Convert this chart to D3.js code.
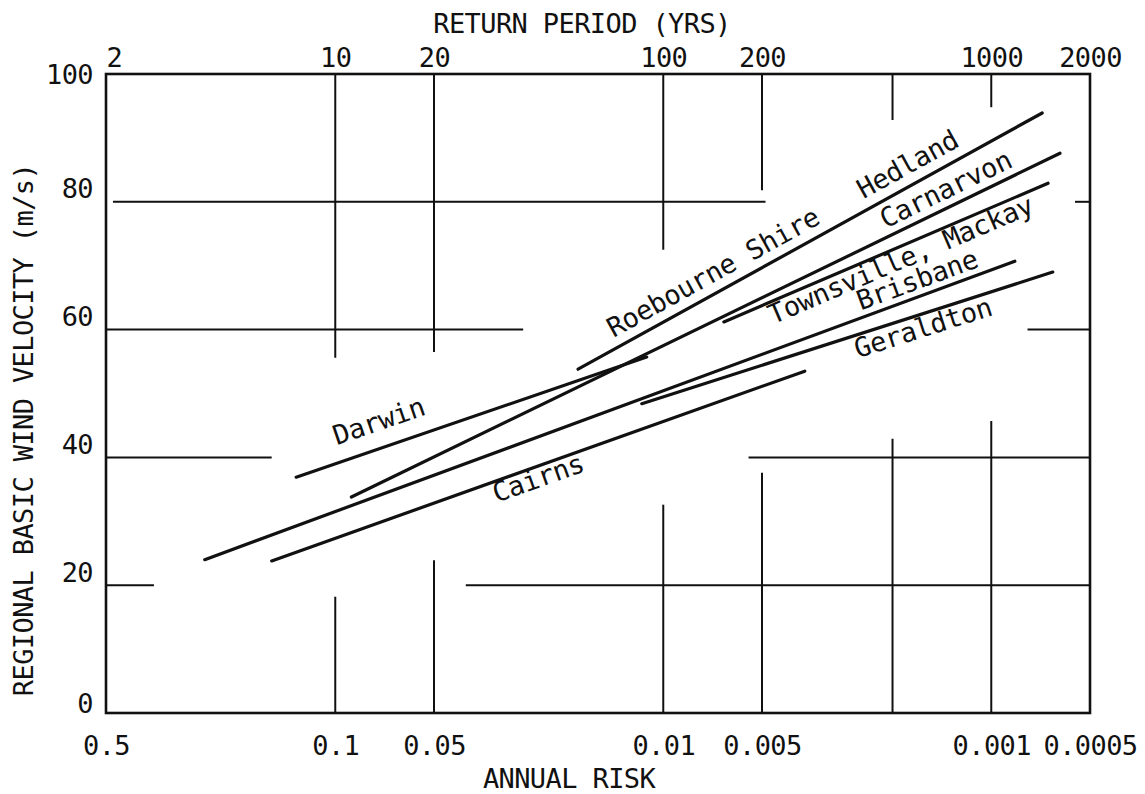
<!DOCTYPE html>
<html>

<head>
    <meta charset="utf-8">
    <script src="https://cdn.jsdelivr.net/npm/d3@7"></script>
    <style>
        body {
            margin: 0;
            background-color: #fff;
        }

        .axis text,
        .title {
            font: 27px "DejaVu Sans Mono", "Liberation Mono", monospace;
            letter-spacing: -0.6px;
            fill: #111;
        }

        .axis path,
        .axis line {
            display: none;
        }

        .grid {
            fill: none;
            stroke: #111;
            stroke-width: 2px;
        }

        .frame {
            fill: none;
            stroke: #111;
            stroke-width: 2.6px;
        }

        .line {
            fill: none;
            stroke: #111;
            stroke-width: 3.2px;
            stroke-linecap: round;
        }

        .label {
            font: 27px "DejaVu Sans Mono", "Liberation Mono", monospace;
            letter-spacing: -0.4px;
            fill: #111;
        }
    </style>
</head>

<body>
    <svg width="1145" height="794"></svg>
    <script>
        // regional design lines: start and end of each straight line
        var regions = ["Darwin", "Roebourne Shire, Hedland", "Carnarvon", "Townsville, Mackay", "Brisbane", "Geraldton", "Cairns"];
        var startPeriod = [7.6, 55, 11.2, 153, 4.0, 86, 6.4];
        var startSpeed = [36.9, 53.8, 33.8, 61.2, 24.0, 48.4, 23.8];
        var endPeriod = [89, 1430, 1620, 1490, 1180, 1540, 270];
        var endSpeed = [55.7, 93.9, 87.6, 82.9, 70.7, 69.0, 53.5];

        // text written along the lines
        var labelText = ["Darwin", "Roebourne Shire", "Hedland", "Carnarvon", "Townsville, Mackay", "Brisbane", "Geraldton", "Cairns"];
        var labelLine = [0, 1, 1, 2, 3, 4, 5, 6];
        var labelPeriod = [10.1, 70.5, 408, 476, 216, 400, 392, 31];
        var labelSpeed = [41.9, 58.7, 80.4, 75.8, 60.8, 63.0, 55.5, 32.9];

        // ticks
        var speedTicks = [0, 20, 40, 60, 80, 100];
        var periodTicks = [2, 10, 20, 100, 200, 1000, 2000];
        var riskTicks = ["0.5", "0.1", "0.05", "0.01", "0.005", "0.001", "0.0005"];

        // the grid is drawn in broken pieces, left clear round the curves
        var hGridSpeed = [80, 80, 60, 60, 40, 40, 20, 20];
        var hGridFrom = [2.1, 1800, 2, 1290, 2, 182, 2, 25];
        var hGridTo = [205, 2000, 37.4, 2000, 6.4, 2000, 2.8, 2000];
        var vGridPeriod = [10, 10, 20, 20, 100, 100, 200, 200, 500, 500, 1000, 1000];
        var vGridFrom = [100, 18.2, 100, 23.9, 100, 32.6, 100, 37.6, 100, 42.9, 100, 45.7];
        var vGridTo = [55.6, 0, 56.5, 0, 72.5, 0, 81.8, 0, 92.8, 0, 94.8, 0];

        var svg = d3.select("svg"),
            margin = {
                top: 74,
                right: 55,
                bottom: 81,
                left: 106
            },
            width = +svg.attr("width") - margin.left - margin.right,
            height = +svg.attr("height") - margin.top - margin.bottom;

        var x = d3.scaleLog().domain([2, 2000]).range([0, width]);
        var y = d3.scaleLinear().domain([0, 100]).range([height, 0]);

        var g = svg.append("g")
            .attr("transform", "translate(" + margin.left + "," + margin.top + ")");

        // grid pieces
        hGridSpeed.forEach(function (v, i) {
            g.append("line")
                .attr("class", "grid")
                .attr("x1", x(hGridFrom[i]))
                .attr("x2", x(hGridTo[i]))
                .attr("y1", y(v))
                .attr("y2", y(v));
        });
        vGridPeriod.forEach(function (t, i) {
            g.append("line")
                .attr("class", "grid")
                .attr("x1", x(t))
                .attr("x2", x(t))
                .attr("y1", y(vGridFrom[i]))
                .attr("y2", y(vGridTo[i]));
        });

        g.append("rect")
            .attr("class", "frame")
            .attr("x", x(2))
            .attr("y", y(100))
            .attr("width", x(2000) - x(2))
            .attr("height", y(0) - y(100));

        // axes
        var xBottom = g.append("g")
            .attr("class", "axis axis--x")
            .attr("transform", "translate(0," + height + ")")
            .call(d3.axisBottom(x).tickValues(periodTicks).tickSize(0).tickFormat(function (d, i) {
                return riskTicks[i];
            }));
        xBottom.selectAll("text").attr("y", 42).attr("dy", 0);

        var xTop = g.append("g")
            .attr("class", "axis axis--top")
            .call(d3.axisTop(x).tickValues(periodTicks).tickSize(0).tickFormat(d3.format("d")));
        xTop.selectAll("text").attr("y", -7).attr("dy", 0)
            .attr("text-anchor", function (d, i) {
                return i === 0 ? "start" : "middle";
            });

        var yLeft = g.append("g")
            .attr("class", "axis axis--y")
            .call(d3.axisLeft(y).tickValues(speedTicks).tickSize(0));
        yLeft.selectAll("text").attr("x", -13).attr("dy", 0)
            .attr("y", function (d) {
                return d === 100 ? 9 : d === 0 ? -1 : -4;
            });

        svg.append("text")
            .attr("class", "title")
            .attr("x", 582)
            .attr("y", 33)
            .attr("text-anchor", "middle")
            .text("RETURN PERIOD (YRS)");

        svg.append("text")
            .attr("class", "title")
            .attr("x", 569)
            .attr("y", 788)
            .attr("text-anchor", "middle")
            .text("ANNUAL RISK");

        svg.append("text")
            .attr("class", "title")
            .attr("transform", "translate(33,430) rotate(-90)")
            .attr("text-anchor", "middle")
            .text("REGIONAL BASIC WIND VELOCITY (m/s)");

        // design lines
        var line = d3.line()
            .x(function (d) {
                return x(d[0]);
            })
            .y(function (d) {
                return y(d[1]);
            });

        regions.forEach(function (r, i) {
            g.append("path")
                .datum([[startPeriod[i], startSpeed[i]], [endPeriod[i], endSpeed[i]]])
                .attr("class", "line")
                .attr("d", line);
        });

        labelText.forEach(function (t, i) {
            var k = labelLine[i];
            var angle = Math.atan2(y(endSpeed[k]) - y(startSpeed[k]), x(endPeriod[k]) - x(startPeriod[k])) * 180 / Math.PI;
            g.append("text")
                .attr("class", "label")
                .attr("transform", "translate(" + x(labelPeriod[i]) + "," + y(labelSpeed[i]) + ") rotate(" + angle + ")")
                .text(t);
        });
    </script>
</body>

</html>
